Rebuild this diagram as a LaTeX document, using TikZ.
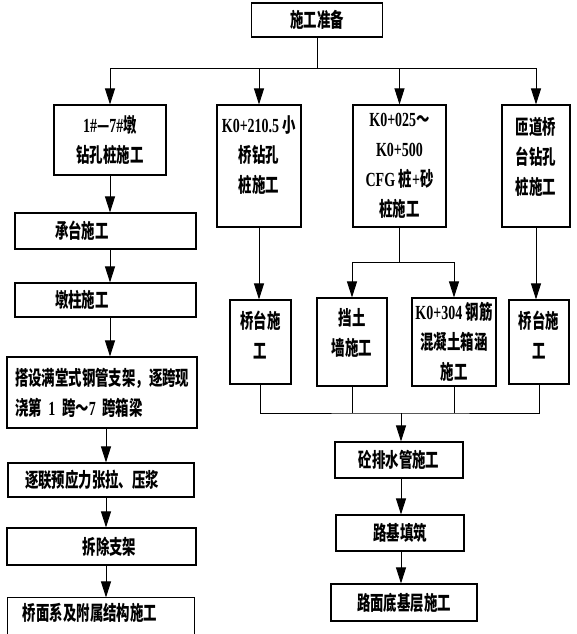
\documentclass[tikz,border=0pt]{standalone}
\usepackage{fontspec}
\setmainfont{Liberation Serif}[FakeStretch=0.7]
\newfontfamily\cjk{Noto Sans CJK SC}[FakeStretch=0.67]
\newcommand\lat[1]{{\rmfamily #1}}
\usetikzlibrary{arrows.meta}

\begin{document}
\begin{tikzpicture}[x=1pt, y=-1pt
% Box styles
		, stepbox/.style={rectangle
							    , draw=black, line width=1.1pt
							    , inner xsep=2pt, inner ysep=0pt
							    , align=center
							    , font=\cjk\bfseries\fontsize{20}{30}\selectfont}
		, leftbox/.style={stepbox
							    , align=left}
% Connector styles
		, ln/.style={line width=0.9pt}
		, arr/.style={ln, -{Triangle[length=16pt,width=10pt]}}
	]
\useasboundingbox (0,0) rectangle (576,634);
\clip (0,0) rectangle (576,634);
%% Boxes
	\node [stepbox, minimum width=131pt, minimum height=34pt] (prep) at (317,20) {施工准备};
	% first row
	\node [stepbox, minimum width=112pt, minimum height=70pt] (pile1) at (110,140) {\lat{1\#}—\lat{7\#}墩\\钻孔桩施工};
	\node [stepbox, minimum width=84pt, minimum height=122pt, text depth=24pt] (pile2) at (259,166) {\lat{K0+210.5 }小\\桥钻孔\\桩施工};
	\node [stepbox, minimum width=93pt, minimum height=122pt] (cfg) at (399.5,166) {\lat{K0+025}～\\\lat{K0+500}\\\lat{CFG }桩\lat{+}砂\\桩施工};
	\node [stepbox, minimum width=68pt, minimum height=122pt, text depth=20pt] (ramp) at (536,166) {匝道桥\\台钻孔\\桩施工};
	% left column
	\node [leftbox, minimum width=181pt, minimum height=36pt, inner xsep=40pt, text width=101pt] (cap) at (105.5,231) {承台施工};
	\node [leftbox, minimum width=181pt, minimum height=34pt, inner xsep=40pt, text width=101pt] (column) at (105.5,300) {墩柱施工};
	\node [leftbox, minimum width=190pt, minimum height=71pt, inner xsep=8pt, text width=174pt] (falsework) at (102,392.5) {搭设满堂式钢管支架，逐跨现\\浇第\lat{ 1 }跨～\lat{7 }跨箱梁};
	\node [leftbox, minimum width=186pt, minimum height=34pt, inner xsep=17pt, text width=152pt] (tension) at (101,480) {逐联预应力张拉、压浆};
	\node [stepbox, minimum width=189pt, minimum height=37pt] (remove) at (101.5,546.5) {\hspace*{16pt}拆除支架};
	\node [leftbox, draw=none, minimum width=186pt, minimum height=30pt, inner xsep=15pt, text width=156pt] (deck) at (101,613) {桥面系及附属结构施工};
	\draw [line width=1.1pt] ([yshift=-30pt]deck.south west) |- (deck.north east) -- ([yshift=-30pt]deck.south east);
	% right part
	\node [stepbox, minimum width=61pt, minimum height=84pt, text depth=14pt] (abutL) at (260.5,342) {桥台施\\工};
	\node [stepbox, minimum width=70pt, minimum height=88pt, text depth=20pt] (wall) at (352,342) {挡土\\墙施工};
	\node [stepbox, minimum width=84pt, minimum height=88pt] (culvert) at (454,342) {\lat{K0+304 }钢筋\\混凝土箱涵\\施工};
	\node [stepbox, minimum width=60pt, minimum height=84pt, text depth=14pt] (abutR) at (539,342) {桥台施\\工};
	\node [stepbox, minimum width=128pt, minimum height=36pt] (drain) at (399,460) {砼排水管施工};
	\node [stepbox, minimum width=128pt, minimum height=36pt] (subgrade) at (400,533) {路基填筑};
	\node [stepbox, minimum width=146pt, minimum height=37pt] (subbase) at (404,602.5) {路面底基层施工};
%% Connectors
	\foreach \n in {pile1,pile2,cfg,ramp}
		\draw [arr] (prep.south) -- ++(0,31) -| (\n.north);
	% left chain
	\draw [arr] (pile1.south) -- (pile1.south |- cap.north);
	\draw [arr] (cap.south -| pile1) -- (pile1 |- column.north);
	\draw [arr] (column.south -| pile1) -- (pile1 |- falsework.north);
	\coordinate (spine) at (106,0);
	\foreach \a/\b in {falsework/tension, tension/remove, remove/deck}
		\draw [arr] (\a.south -| spine) -- (spine |- \b.north);
	% right part
	\draw [arr] (pile2.south) -- (pile2.south |- abutL.north);
	\draw [arr] (cfg.south) -- ++(0,35) -| (wall.north);
	\draw [arr] (cfg.south) -- ++(0,35) -| (culvert.north);
	\draw [arr] (ramp.south) -- (ramp.south |- abutR.north);
	\coordinate (merge) at (401,413);
	\draw [ln] (abutL.south) |- (merge) -| (abutR.south);
	\draw [ln] (wall.south) -- (wall.south |- merge);
	\draw [ln] (culvert.south) -- (culvert.south |- merge);
	\draw [arr] (merge) -- (merge |- drain.north);
	\draw [arr] (drain.south -| merge) -- (merge |- subgrade.north);
	\draw [arr] (subgrade.south -| merge) -- (merge |- subbase.north);
\end{tikzpicture}
\end{document}
